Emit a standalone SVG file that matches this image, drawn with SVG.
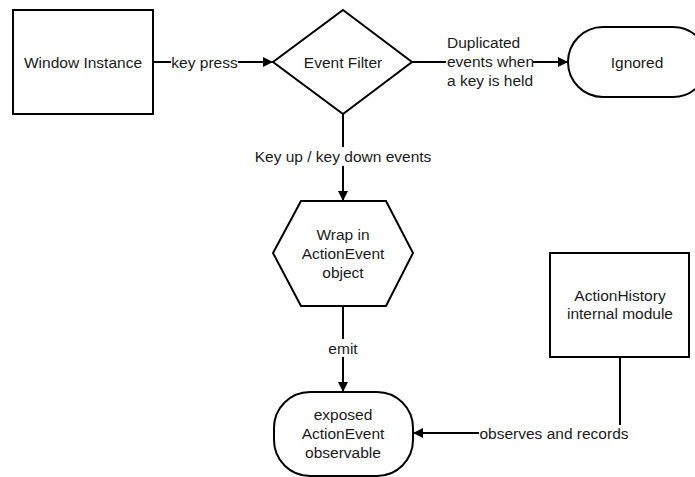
<svg xmlns="http://www.w3.org/2000/svg" width="695" height="477" viewBox="0 0 695 477">
  <defs>
    <marker id="arrow" viewBox="0 0 10 10" refX="10" refY="5" markerWidth="10" markerHeight="10" markerUnits="userSpaceOnUse" orient="auto">
      <path d="M0,0 L10,5 L0,10 Z" fill="#000"/>
    </marker>
    <style>
      .shape { fill: #fff; stroke: #000; stroke-width: 2; }
      .edge { fill: none; stroke: #000; stroke-width: 2; }
      text { font-family: "Liberation Sans", Arial, sans-serif; font-size: 15.5px; fill: #1a1a1a; }
      .c { text-anchor: middle; dominant-baseline: central; }
      .lbl { fill: #fff; }
    </style>
  </defs>
  <rect width="695" height="477" fill="#fff"/>

  <!-- connectors -->
  <g id="connectors">
    <!-- key press -->
    <path class="edge" d="M153,62 H273" marker-end="url(#arrow)"/>
    <rect class="lbl" x="171" y="52" width="67" height="20"/>
    <text class="c" x="204.5" y="62">key press</text>

    <!-- duplicated events -->
    <path class="edge" d="M412,62 H568" marker-end="url(#arrow)"/>
    <rect class="lbl" x="446" y="32" width="87" height="58"/>
    <text x="447" y="42" dominant-baseline="central">Duplicated</text>
    <text x="447" y="61" dominant-baseline="central">events when</text>
    <text x="447" y="80" dominant-baseline="central">a key is held</text>

    <!-- key up / key down -->
    <path class="edge" d="M343,114 V201" marker-end="url(#arrow)"/>
    <rect class="lbl" x="254" y="147" width="178" height="19"/>
    <text class="c" x="343" y="156">Key up / key down events</text>

    <!-- emit -->
    <path class="edge" d="M343,306 V392" marker-end="url(#arrow)"/>
    <rect class="lbl" x="327" y="339" width="32" height="18"/>
    <text class="c" x="343" y="348">emit</text>

    <!-- observes and records -->
    <path class="edge" d="M620,357 V433 H413" marker-end="url(#arrow)"/>
    <rect class="lbl" x="479" y="425" width="150" height="17"/>
    <text class="c" x="554" y="433">observes and records</text>
  </g>

  <g id="window-instance">
    <rect class="shape" x="13" y="10" width="140" height="104"/>
    <text class="c" x="83" y="62">Window Instance</text>
  </g>

  <g id="event-filter">
    <polygon class="shape" points="343,10 412,62 343,114 273,62"/>
    <text class="c" x="343" y="62">Event Filter</text>
  </g>

  <g id="ignored">
    <rect class="shape" x="568" y="27" width="140" height="70" rx="35" ry="35"/>
    <text class="c" x="637" y="62">Ignored</text>
  </g>

  <g id="wrap-action-event">
    <polygon class="shape" points="301,201 386,201 413,253 386,306 301,306 273,253"/>
    <text class="c" x="343" y="234">Wrap in</text>
    <text class="c" x="343" y="253">ActionEvent</text>
    <text class="c" x="343" y="272">object</text>
  </g>

  <g id="action-event-observable">
    <rect class="shape" x="274" y="392" width="139" height="84" rx="36" ry="36"/>
    <text class="c" x="343" y="414">exposed</text>
    <text class="c" x="343" y="433">ActionEvent</text>
    <text class="c" x="343" y="452">observable</text>
  </g>

  <g id="action-history">
    <rect class="shape" x="550" y="253" width="139" height="104"/>
    <text class="c" x="620" y="295">ActionHistory</text>
    <text class="c" x="620" y="313">internal module</text>
  </g>
</svg>
